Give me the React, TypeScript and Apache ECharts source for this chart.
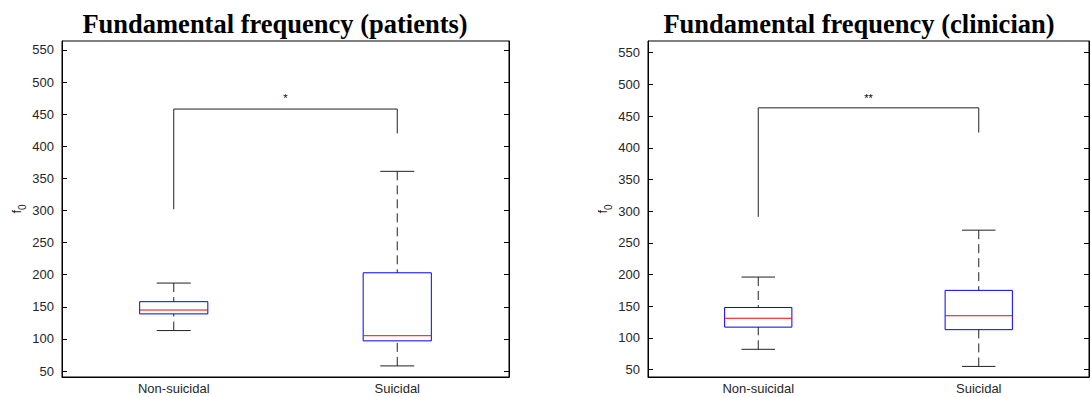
import React, { useEffect, useRef } from "react";
import * as echarts from "echarts";

// ---- Data ----
const categories = ["Non-suicidal", "Suicidal"];
const titles = ["Fundamental frequency (patients)", "Fundamental frequency (clinician)"];
// [min, Q1, median, Q3, max]
const patientsBoxes = [
  [113, 139, 145, 158, 187],
  [58, 97, 105, 203, 361],
];
const clinicianBoxes = [
  [82, 117, 131, 148, 196],
  [55, 113, 135, 175, 270],
];
// [left leg bottom, top, right leg bottom, marker level]
const patientsBracket = [302, 458, 420, 480];
const clinicianBracket = [291, 463, 424, 484];
const significance = ["*", "**"];
const yTicks = [50, 100, 150, 200, 250, 300, 350, 400, 450, 500, 550];
const yRanges = [
  [40.7, 564],
  [38.3, 568.5],
];

const FONT = "'Liberation Sans', Arial, Helvetica, sans-serif";
const TITLE_FONT = "'Liberation Serif', 'Times New Roman', serif";

function boxRender(params: any, api: any) {
  const x = api.value(0);
  const mn = api.value(1);
  const q1 = api.value(2);
  const md = api.value(3);
  const q3 = api.value(4);
  const mx = api.value(5);
  const band = api.size([1, 0])[0];
  const bw = band * 0.305;
  const cw = band * 0.152;
  const cx = api.coord([x, md])[0];
  const y = (v: number) => api.coord([x, v])[1];
  const dashStyle = { stroke: "#222", lineWidth: 1, lineDash: [9, 5] };
  const solid = { stroke: "#222", lineWidth: 1 };
  return {
    type: "group",
    children: [
      { type: "line", shape: { x1: cx, y1: y(mx), x2: cx, y2: y(q3) }, style: dashStyle },
      { type: "line", shape: { x1: cx, y1: y(mn), x2: cx, y2: y(q1) }, style: dashStyle },
      { type: "line", shape: { x1: cx - cw / 2, y1: y(mx), x2: cx + cw / 2, y2: y(mx) }, style: solid },
      { type: "line", shape: { x1: cx - cw / 2, y1: y(mn), x2: cx + cw / 2, y2: y(mn) }, style: solid },
      {
        type: "rect",
        shape: { x: cx - bw / 2, y: y(q3), width: bw, height: y(q1) - y(q3) },
        style: { fill: "none", stroke: "#0000ff", lineWidth: 1 },
      },
      { type: "line", shape: { x1: cx - bw / 2, y1: y(md), x2: cx + bw / 2, y2: y(md) }, style: { stroke: "#ff0000", lineWidth: 1 } },
    ],
  };
}

function bracketRender(sig: string) {
  return (params: any, api: any) => {
    const xa = api.value(0);
    const xb = api.value(1);
    const lb = api.value(2);
    const top = api.value(3);
    const rb = api.value(4);
    const mk = api.value(5);
    const pA = api.coord([xa, lb]);
    const pT = api.coord([xa, top]);
    const pB = api.coord([xb, rb]);
    const pBT = api.coord([xb, top]);
    const pM = api.coord([xa, mk]);
    return {
      type: "group",
      children: [
        {
          type: "polyline",
          shape: { points: [pA, pT, pBT, pB] },
          style: { stroke: "#222", lineWidth: 1, fill: "none" },
        },
        {
          type: "text",
          x: (pA[0] + pB[0]) / 2,
          y: pM[1] + 3,
          style: { text: sig, textAlign: "center", textVerticalAlign: "middle", fontSize: 11, fontFamily: FONT, fill: "#000" },
        },
      ],
    };
  };
}

export default function App() {
  const ref = useRef<HTMLDivElement>(null);
  useEffect(() => {
    if (!ref.current) return;
    const chart = echarts.init(ref.current, undefined, { renderer: "svg" });
    const gridLefts = [62, 648];
    const gridWidths = [447, 441];
    const titleCenters = [275, 859];
    const boxSets = [patientsBoxes, clinicianBoxes];
    const brackets = [patientsBracket, clinicianBracket];

    const yAxisCommon = (gi: number, pos: string, labels: boolean) => ({
      type: "value",
      gridIndex: gi,
      position: pos,
      min: yRanges[gi][0],
      max: yRanges[gi][1],
      splitLine: { show: false },
      axisLine: { show: true, lineStyle: { color: "#000", width: 1 } },
      axisTick: { show: true, inside: true, length: 5, customValues: yTicks, lineStyle: { color: "#000" } },
      axisLabel: {
        show: labels,
        customValues: yTicks,
        fontFamily: FONT,
        fontSize: 13,
        color: "#262626",
        margin: 8,
      },
      name: labels ? "{f|f}{s|0}" : "",
      nameLocation: "middle",
      nameRotate: 90,
      nameGap: 35,
      nameTextStyle: {
        rich: {
          f: { fontFamily: FONT, fontSize: 13, color: "#262626", lineHeight: 22, verticalAlign: "middle" },
          s: { fontFamily: FONT, fontSize: 10, color: "#262626", lineHeight: 22, verticalAlign: "bottom" },
        },
      },
    });

    const option: any = {
      animation: false,
      title: [0, 1].map((i) => ({
        text: titles[i],
        left: titleCenters[i],
        top: 10,
        padding: 0,
        textAlign: "center",
        textStyle: { fontFamily: TITLE_FONT, fontWeight: "bold", fontSize: 26.5, color: "#000" },
      })),
      grid: [0, 1].map((i) => ({
        left: gridLefts[i],
        top: 41,
        width: gridWidths[i],
        height: 336,
        show: true,
        borderColor: "#000",
        borderWidth: 1,
        backgroundColor: "transparent",
        containLabel: false,
      })),
      xAxis: [0, 1].map((i) => ({
        type: "category",
        gridIndex: i,
        data: categories,
        boundaryGap: true,
        axisTick: { show: false },
        axisLine: { lineStyle: { color: "#000" } },
        axisLabel: { fontFamily: FONT, fontSize: 13, color: "#262626", margin: 5 },
      })),
      yAxis: [yAxisCommon(0, "left", true), yAxisCommon(0, "right", false), yAxisCommon(1, "left", true), yAxisCommon(1, "right", false)],
      series: [
        ...[0, 1].map((i) => ({
          type: "custom",
          xAxisIndex: i,
          yAxisIndex: i * 2,
          renderItem: boxRender,
          encode: { x: 0, y: [1, 2, 3, 4, 5] },
          data: boxSets[i].map((b, k) => [k, ...b]),
          clip: false,
        })),
        ...[0, 1].map((i) => ({
          type: "custom",
          xAxisIndex: i,
          yAxisIndex: i * 2,
          renderItem: bracketRender(significance[i]),
          encode: { x: [0, 1], y: [2, 3, 4, 5] },
          data: [[0, 1, ...brackets[i]]],
          clip: false,
        })),
      ],
    };
    chart.setOption(option);
    return () => chart.dispose();
  }, []);
  return (
    <div
      ref={ref}
      style={{ position: "fixed", left: 0, top: 0, width: 1091, height: 397, background: "#fff" }}
    />
  );
}
